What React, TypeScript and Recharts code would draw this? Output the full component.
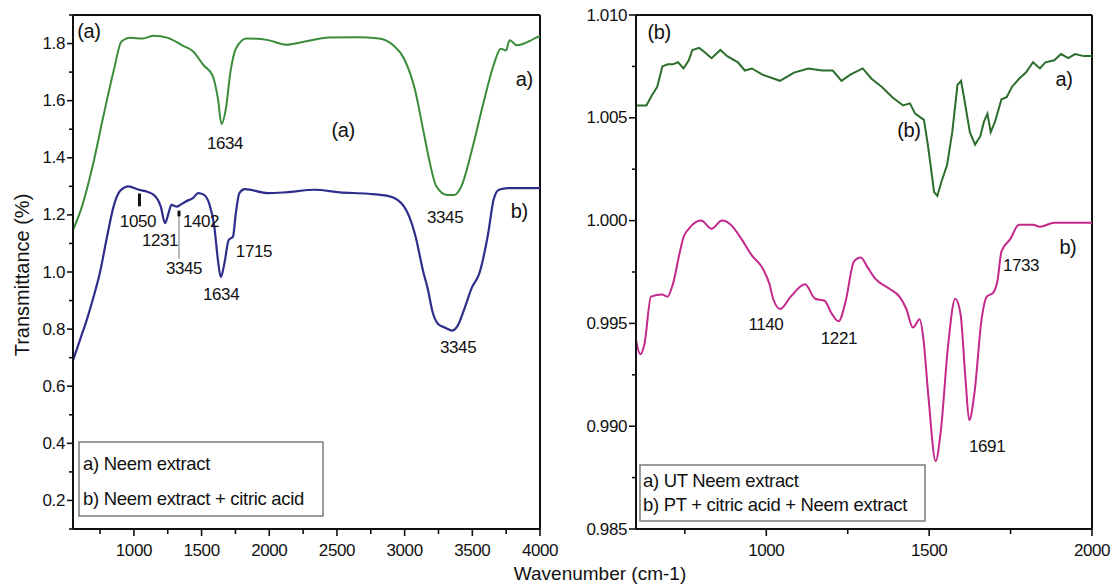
import React from "react";
import { LineChart, Line, XAxis, YAxis, ReferenceLine, ReferenceDot } from "recharts";

const FONT = '"Liberation Sans", Arial, Helvetica, sans-serif';
const INK = "#111";

// panel (a): a) Neem extract
const neemWn = [550, 616, 695, 775, 854, 907, 973, 1066, 1145, 1251, 1356, 1436, 1515, 1581, 1621, 1647, 1679, 1713, 1753, 1832, 1991, 2123, 2255, 2440, 2652, 2811, 2916, 2996, 3075, 3141, 3181, 3234, 3313, 3366, 3419, 3498, 3577, 3657, 3710, 3749, 3776, 3829, 3921, 3987, 4000];
const neemT = [1.147, 1.229, 1.371, 1.547, 1.712, 1.806, 1.82, 1.818, 1.827, 1.82, 1.794, 1.773, 1.724, 1.688, 1.606, 1.518, 1.571, 1.7, 1.782, 1.818, 1.812, 1.796, 1.806, 1.821, 1.822, 1.818, 1.794, 1.747, 1.641, 1.488, 1.394, 1.3, 1.27, 1.27, 1.3, 1.429, 1.582, 1.724, 1.782, 1.776, 1.812, 1.794, 1.808, 1.824, 1.825];

// panel (a): b) Neem extract + citric acid
const citricWn = [550, 600, 650, 700, 750, 800, 850, 900, 960, 1026, 1066, 1092, 1158, 1198, 1230, 1256, 1277, 1317, 1343, 1383, 1436, 1475, 1515, 1555, 1594, 1621, 1642, 1668, 1700, 1732, 1753, 1779, 1819, 1991, 2123, 2335, 2520, 2731, 2890, 2996, 3075, 3141, 3168, 3207, 3247, 3300, 3353, 3392, 3445, 3498, 3551, 3617, 3657, 3696, 3762, 3900, 4000];
const citricT = [0.69, 0.76, 0.83, 0.91, 1.0, 1.12, 1.23, 1.285, 1.3, 1.29, 1.285, 1.282, 1.265, 1.23, 1.171, 1.206, 1.235, 1.229, 1.235, 1.247, 1.259, 1.276, 1.271, 1.241, 1.159, 1.041, 0.982, 1.029, 1.112, 1.124, 1.206, 1.276, 1.29, 1.276, 1.279, 1.288, 1.279, 1.274, 1.265, 1.229, 1.135, 0.994, 0.947, 0.859, 0.818, 0.805, 0.795, 0.812, 0.876, 0.947, 0.994, 1.135, 1.253, 1.288, 1.294, 1.294, 1.294];

// panel (b): a) UT Neem extract
const utWn = [600, 632, 649, 665, 681, 697, 713, 729, 746, 762, 773, 794, 810, 832, 859, 880, 913, 934, 956, 988, 1042, 1085, 1129, 1172, 1204, 1231, 1258, 1296, 1323, 1355, 1387, 1420, 1441, 1457, 1484, 1495, 1506, 1515, 1525, 1538, 1555, 1571, 1587, 1598, 1608, 1625, 1641, 1657, 1668, 1679, 1689, 1702, 1722, 1738, 1754, 1776, 1797, 1819, 1840, 1857, 1884, 1905, 1927, 1948, 1975, 2000];
const utT = [1.0056, 1.0056, 1.0061, 1.0065, 1.0075, 1.0076, 1.0076, 1.0077, 1.0074, 1.0078, 1.0083, 1.0084, 1.0082, 1.0079, 1.0083, 1.008, 1.0077, 1.0073, 1.0074, 1.0071, 1.0068, 1.0072, 1.0074, 1.0073, 1.0073, 1.0068, 1.0071, 1.0074, 1.0069, 1.0065, 1.006, 1.0056, 1.0057, 1.0052, 1.0049, 1.0038, 1.0025, 1.0014, 1.0012, 1.0019, 1.0027, 1.0043, 1.0066, 1.0068, 1.0059, 1.0043, 1.0037, 1.0041, 1.0048, 1.0052, 1.0043, 1.0048, 1.0059, 1.006, 1.0065, 1.0069, 1.0072, 1.0077, 1.0074, 1.0077, 1.0078, 1.0081, 1.0079, 1.0081, 1.008, 1.008];

// panel (b): b) PT + citric acid + Neem extract
const ptWn = [600, 613, 626, 646, 680, 697, 713, 735, 746, 762, 800, 832, 864, 891, 924, 956, 988, 1010, 1021, 1043, 1075, 1119, 1150, 1179, 1200, 1222, 1244, 1269, 1290, 1312, 1333, 1377, 1409, 1430, 1450, 1471, 1482, 1498, 1520, 1536, 1558, 1580, 1596, 1612, 1623, 1639, 1661, 1677, 1697, 1710, 1722, 1749, 1776, 1819, 1840, 1884, 2000];
const ptT = [0.9942, 0.9935, 0.994, 0.9963, 0.9964, 0.9963, 0.9969, 0.9985, 0.9992, 0.9996, 1.0, 0.9996, 1.0, 0.9998, 0.9991, 0.9983, 0.9977, 0.9969, 0.9962, 0.9957, 0.9963, 0.9969, 0.9962, 0.9961, 0.9955, 0.9951, 0.9961, 0.998, 0.9982, 0.9977, 0.9972, 0.9967, 0.9963, 0.9957, 0.9948, 0.9952, 0.9943, 0.9914, 0.9883, 0.9898, 0.9939, 0.9962, 0.9955, 0.9922, 0.9903, 0.9916, 0.9952, 0.9963, 0.9965, 0.9971, 0.9985, 0.9991, 0.9998, 0.9998, 0.9997, 0.9999, 0.9999];

// ticks
const leftXTicks = [750, 1000, 1250, 1500, 1750, 2000, 2250, 2500, 2750, 3000, 3250, 3500, 3750, 4000];
const leftXMajor = [1000, 1500, 2000, 2500, 3000, 3500, 4000];
const leftYTicks = [0.1, 0.2, 0.3, 0.4, 0.5, 0.6, 0.7, 0.8, 0.9, 1.0, 1.1, 1.2, 1.3, 1.4, 1.5, 1.6, 1.7, 1.8, 1.9];
const leftYMajor = [0.2, 0.4, 0.6, 0.8, 1.0, 1.2, 1.4, 1.6, 1.8];
const rightXTicks = [750, 1000, 1250, 1500, 1750, 2000];
const rightXMajor = [1000, 1500, 2000];
const rightYTicks = [0.985, 0.9875, 0.99, 0.9925, 0.995, 0.9975, 1.0, 1.0025, 1.005, 1.0075, 1.01];
const rightYMajor = [0.985, 0.99, 0.995, 1.0, 1.005, 1.01];

// peak labels, placed in data units
const leftNotes = [
  { x: 668, y: 1.844, text: "(a)", size: 20 },
  { x: 3883, y: 1.675, text: "a)", size: 20 },
  { x: 1673, y: 1.451, text: "1634", size: 17 },
  { x: 2545, y: 1.496, text: "(a)", size: 20 },
  { x: 3299, y: 1.191, text: "3345", size: 17 },
  { x: 3846, y: 1.212, text: "b)", size: 20 },
  { x: 1030, y: 1.177, text: "1050", size: 17 },
  { x: 1193, y: 1.111, text: "1231", size: 17 },
  { x: 1496, y: 1.177, text: "1402", size: 17 },
  { x: 1370, y: 1.012, text: "3345", size: 17 },
  { x: 1887, y: 1.072, text: "1715", size: 17 },
  { x: 1644, y: 0.921, text: "1634", size: 17 },
  { x: 3395, y: 0.735, text: "3345", size: 17 },
];
const rightNotes = [
  { x: 671, y: 1.00917, text: "(b)", size: 20 },
  { x: 1914, y: 1.00688, text: "a)", size: 20 },
  { x: 1438, y: 1.0044, text: "(b)", size: 20 },
  { x: 1926, y: 0.99874, text: "b)", size: 20 },
  { x: 1782, y: 0.99782, text: "1733", size: 17 },
  { x: 999, y: 0.99494, text: "1140", size: 17 },
  { x: 1223, y: 0.99426, text: "1221", size: 17 },
  { x: 1678, y: 0.989, text: "1691", size: 17 },
];

const zip = (xs: number[], ys: number[]) => xs.map((x, i) => ({ x, y: ys[i] }));
const neem = zip(neemWn, neemT);
const citric = zip(citricWn, citricT);
const ut = zip(utWn, utT);
const pt = zip(ptWn, ptT);

function XTick(props: any) {
  const { x, y, payload, majors } = props;
  const major = majors.includes(payload.value);
  return (
    <g>
      <line x1={x} x2={x} y1={y} y2={y + (major ? 7 : 5)} stroke={INK} strokeWidth={1.6} />
      {major && (
        <text x={x} y={y + 21} textAnchor="middle" dominantBaseline="central" fontFamily={FONT} fontSize={17} fill={INK} letterSpacing={-0.4}>
          {payload.value}
        </text>
      )}
    </g>
  );
}

function YTick(props: any) {
  const { x, y, payload, majors, digits, len } = props;
  const major = majors.some((m: number) => Math.abs(m - payload.value) < 1e-9);
  return (
    <g>
      <line x1={x - (major ? len : 4)} x2={x} y1={y} y2={y} stroke={INK} strokeWidth={1.6} />
      {major && (
        <text x={x - len - 2} y={y} textAnchor="end" dominantBaseline="central" fontFamily={FONT} fontSize={17} fill={INK} letterSpacing={-0.4}>
          {payload.value.toFixed(digits)}
        </text>
      )}
    </g>
  );
}

const noteShape = (text: string, size: number) => (p: any) => (
  <text x={p.cx} y={p.cy} textAnchor="middle" dominantBaseline="central" fontFamily={FONT} fontSize={size} fill={INK} letterSpacing={-0.4}>
    {text}
  </text>
);

const axisLine = { stroke: INK, strokeWidth: 2 };

export default function App() {
  return (
    <div style={{ position: "absolute", left: 0, top: 0, width: 1113, height: 584, background: "#fff", overflow: "hidden" }}>
      <div style={{ position: "absolute", left: 0, top: 0 }}>
        <LineChart width={560} height={584} margin={{ top: 15, right: 20, bottom: 25, left: 0 }}>
          <XAxis dataKey="x" type="number" domain={[550, 4000]} allowDataOverflow ticks={leftXTicks} interval={0} height={30}
            tickSize={0} tickMargin={0} tickLine={false} axisLine={axisLine} tick={<XTick majors={leftXMajor} />} />
          <YAxis type="number" domain={[0.1, 1.9]} allowDataOverflow ticks={leftYTicks} interval={0} width={73}
            tickSize={0} tickMargin={0} tickLine={false} axisLine={axisLine} tick={<YTick majors={leftYMajor} digits={1} len={6} />} />
          <ReferenceLine y={1.9} stroke={INK} strokeWidth={2} />
          <ReferenceLine x={4000} stroke={INK} strokeWidth={2} />
          <Line data={neem} dataKey="y" type="monotone" stroke="#3a8c3a" strokeWidth={2} dot={false} isAnimationActive={false} />
          <Line data={citric} dataKey="y" type="monotone" stroke="#2f2d8c" strokeWidth={2.2} dot={false} isAnimationActive={false} />
          <ReferenceLine segment={[{ x: 1041, y: 1.23 }, { x: 1041, y: 1.275 }]} stroke={INK} strokeWidth={3} />
          <ReferenceLine segment={[{ x: 1333, y: 1.047 }, { x: 1333, y: 1.2 }]} stroke="#9aa6a6" strokeWidth={1.5} />
          <ReferenceLine segment={[{ x: 1333, y: 1.195 }, { x: 1333, y: 1.215 }]} stroke={INK} strokeWidth={3} />
          {leftNotes.map((n, i) => (
            <ReferenceDot key={i} x={n.x} y={n.y} r={0} shape={noteShape(n.text, n.size)} />
          ))}
        </LineChart>
      </div>
      <div style={{ position: "absolute", left: 560, top: 0 }}>
        <LineChart width={553} height={584} margin={{ top: 15, right: 21, bottom: 25, left: 0 }}>
          <XAxis dataKey="x" type="number" domain={[600, 2000]} allowDataOverflow ticks={rightXTicks} interval={0} height={30}
            tickSize={0} tickMargin={0} tickLine={false} axisLine={axisLine} tick={<XTick majors={rightXMajor} />} />
          <YAxis type="number" domain={[0.985, 1.01]} allowDataOverflow ticks={rightYTicks} interval={0} width={76}
            tickSize={0} tickMargin={0} tickLine={false} axisLine={axisLine} tick={<YTick majors={rightYMajor} digits={3} len={7} />} />
          <ReferenceLine y={1.01} stroke={INK} strokeWidth={2} />
          <ReferenceLine x={2000} stroke={INK} strokeWidth={2} />
          <Line data={ut} dataKey="y" type="linear" stroke="#2b6e2b" strokeWidth={2} dot={false} isAnimationActive={false} />
          <Line data={pt} dataKey="y" type="monotone" stroke="#c3288d" strokeWidth={2} dot={false} isAnimationActive={false} />
          {rightNotes.map((n, i) => (
            <ReferenceDot key={i} x={n.x} y={n.y} r={0} shape={noteShape(n.text, n.size)} />
          ))}
        </LineChart>
      </div>
      <svg width={1113} height={584} style={{ position: "absolute", left: 0, top: 0, pointerEvents: "none" }}>
        <g fontFamily={FONT} fill={INK}>
          <rect x={79} y={442} width={244} height={74} fill="#fff" stroke="#7a7a7a" strokeWidth={1.5} />
          <text x={83} y={463} fontSize={18.5} dominantBaseline="central" letterSpacing={-0.3}>a) Neem extract</text>
          <text x={83} y={498} fontSize={18.5} dominantBaseline="central" letterSpacing={-0.3}>b) Neem extract + citric acid</text>
          <rect x={640} y={465} width={285} height={56} fill="#fff" stroke="#7a7a7a" strokeWidth={1.5} />
          <text x={643} y={480} fontSize={18.5} dominantBaseline="central" letterSpacing={-0.3}>a) UT Neem extract</text>
          <text x={643} y={504} fontSize={18.5} dominantBaseline="central" letterSpacing={-0.3}>b) PT + citric acid + Neem extract</text>
          <text x={600} y={573} fontSize={19} textAnchor="middle" dominantBaseline="central">Wavenumber (cm-1)</text>
          <text x={22} y={275} fontSize={20} textAnchor="middle" dominantBaseline="central" transform="rotate(-90 22 275)">Transmittance (%)</text>
        </g>
      </svg>
    </div>
  );
}
